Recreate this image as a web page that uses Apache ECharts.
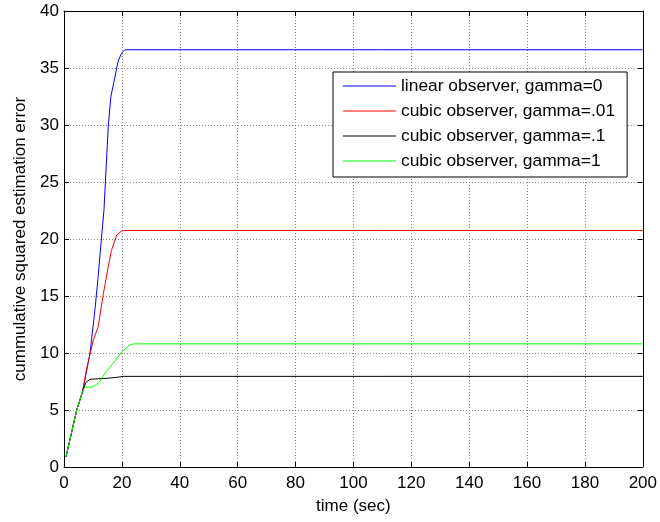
<!DOCTYPE html>
<html>
<head>
<meta charset="utf-8">
<script src="https://cdn.jsdelivr.net/npm/echarts@6/dist/echarts.min.js"></script>
<style>html,body{margin:0;padding:0;background:#fff;}#c{width:660px;height:522px;}</style>
</head>
<body>
<div id="c"></div>
<script>
var seriesNames = ['linear observer, gamma=0', 'cubic observer, gamma=.01', 'cubic observer, gamma=.1', 'cubic observer, gamma=1'];
var xTicks = [0, 20, 40, 60, 80, 100, 120, 140, 160, 180, 200];
var yTicks = [0, 5, 10, 15, 20, 25, 30, 35, 40];

var tLinear = [0.7, 2.5, 4.4, 6.4, 7.2, 9.0, 10.7, 11.8, 13.0, 13.8, 15.3, 16.2, 17.6, 18.7, 19.9, 21.0, 200];
var vLinear = [0.9, 2.9, 5.0, 6.6, 7.6, 10.0, 13.8, 16.7, 20.2, 22.5, 29.9, 32.5, 34.2, 35.6, 36.3, 36.6, 36.6];

var tCubic01 = [0.7, 2.5, 4.4, 6.4, 7.8, 10.1, 11.8, 13.6, 15.3, 16.4, 18.2, 19.9, 21.0, 200];
var vCubic01 = [0.9, 2.9, 5.0, 6.6, 8.6, 11.1, 12.3, 15.2, 17.6, 19.0, 20.35, 20.7, 20.75, 20.75];

var tCubic1 = [0.7, 2.5, 4.4, 6.4, 7.5, 9.0, 15.9, 19.3, 20.5, 200];
var vCubic1 = [0.9, 2.9, 5.0, 6.6, 7.4, 7.7, 7.8, 7.9, 7.95, 7.95];

var tCubic10 = [0.7, 2.5, 4.4, 6.4, 7.2, 9.5, 11.0, 12.4, 14.1, 17.0, 19.9, 22.8, 24.0, 200];
var vCubic10 = [0.9, 2.9, 5.0, 6.6, 7.0, 7.0, 7.2, 7.5, 8.2, 9.1, 10.1, 10.7, 10.8, 10.8];

var colors = ['#0000ff', '#ff0000', '#000000', '#00ff00'];

function pairs(t, v) { return t.map(function (x, i) { return [x, v[i]]; }); }

var FONT = 'Liberation Sans, Arial, sans-serif';
var chart = echarts.init(document.getElementById('c'), null, {renderer: 'canvas'});

var dataSets = [pairs(tLinear, vLinear), pairs(tCubic01, vCubic01), pairs(tCubic1, vCubic1), pairs(tCubic10, vCubic10)];

chart.setOption({
  animation: false,
  backgroundColor: '#fff',
  grid: {left: 64, right: 16, top: 11, bottom: 55, containLabel: false},
  xAxis: [{
    type: 'value', min: 0, max: 200, interval: 20,
    name: 'time (sec)', nameLocation: 'middle', nameGap: 31,
    nameTextStyle: {fontFamily: FONT, fontSize: 17, color: '#000'},
    axisLine: {show: true, onZero: false, lineStyle: {color: '#000', width: 1}},
    axisTick: {show: true, inside: true, length: 5, lineStyle: {color: '#000'}},
    axisLabel: {fontFamily: FONT, fontSize: 17, color: '#000', margin: 8},
    splitLine: {show: true, lineStyle: {color: '#8a8a8a', type: [1, 2], width: 1}}
  }, {
    type: 'value', min: 0, max: 200, interval: 20, position: 'top',
    axisLine: {show: true, onZero: false, lineStyle: {color: '#000', width: 1}},
    axisTick: {show: true, inside: true, length: 5, lineStyle: {color: '#000'}},
    axisLabel: {show: false}, splitLine: {show: false}
  }],
  yAxis: [{
    type: 'value', min: 0, max: 40, interval: 5,
    name: 'cummulative squared estimation error', nameLocation: 'middle', nameGap: 35,
    nameTextStyle: {fontFamily: FONT, fontSize: 17, color: '#000'},
    axisLine: {show: true, onZero: false, lineStyle: {color: '#000', width: 1}},
    axisTick: {show: true, inside: true, length: 5, lineStyle: {color: '#000'}},
    axisLabel: {fontFamily: FONT, fontSize: 17, color: '#000', margin: 5},
    splitLine: {show: true, lineStyle: {color: '#8a8a8a', type: [1, 2], width: 1}}
  }, {
    type: 'value', min: 0, max: 40, interval: 5, position: 'right',
    axisLine: {show: true, onZero: false, lineStyle: {color: '#000', width: 1}},
    axisTick: {show: true, inside: true, length: 5, lineStyle: {color: '#000'}},
    axisLabel: {show: false}, splitLine: {show: false}
  }],
  legend: {
    show: true, orient: 'vertical', left: 333, top: 72,
    backgroundColor: '#fff', borderColor: '#000', borderWidth: 1,
    padding: [4, 12, 6, 10],
    icon: 'rect', itemWidth: 53, itemHeight: 1, itemGap: 5,
    textStyle: {fontFamily: FONT, fontSize: 17.4, color: '#000', lineHeight: 20},
    data: seriesNames
  },
  series: dataSets.map(function (d, i) {
    return {
      name: seriesNames[i], type: 'line', data: d,
      xAxisIndex: 0, yAxisIndex: 0,
      symbol: 'none', showSymbol: false, smooth: false,
      lineStyle: {color: colors[i], width: 1},
      itemStyle: {color: colors[i]},
      z: 3
    };
  })
});
</script>
</body>
</html>
